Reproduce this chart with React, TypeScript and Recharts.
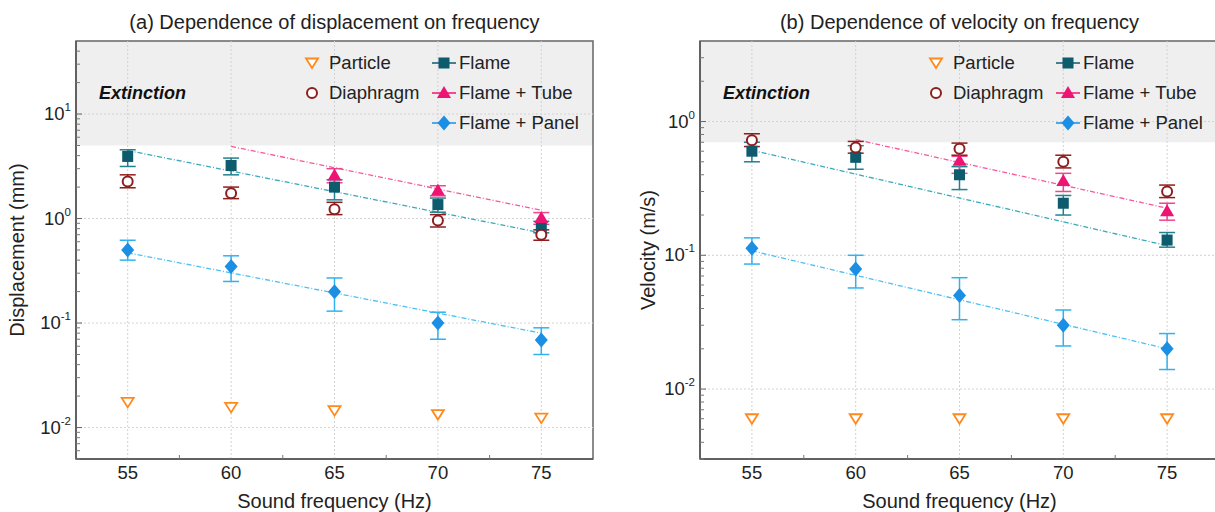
import React from 'react';
import { ComposedChart, Scatter, Line, XAxis, YAxis, ReferenceArea, ReferenceLine, ErrorBar } from 'recharts';

// ---------- data ----------
const FREQ = [55, 60, 65, 70, 75];
const TUBE_FREQ = [65, 70, 75];
const FIT_FULL_X = [55, 75];
const FIT_TUBE_X = [60, 75];

// (a) displacement, mm
const DISP_PARTICLE = [0.0174, 0.0156, 0.0145, 0.0133, 0.0123];
const DISP_DIAPHRAGM = [2.26, 1.75, 1.23, 0.96, 0.70];
const DISP_DIAPHRAGM_LOW = [1.97, 1.55, 1.09, 0.83, 0.62];
const DISP_DIAPHRAGM_HIGH = [2.62, 2.0, 1.43, 1.09, 0.78];
const DISP_FLAME = [3.93, 3.22, 2.0, 1.36, 0.82];
const DISP_FLAME_LOW = [3.15, 2.62, 1.51, 1.15, 0.73];
const DISP_FLAME_HIGH = [4.55, 3.79, 2.35, 1.57, 0.94];
const DISP_TUBE = [2.58, 1.86, 1.01];
const DISP_TUBE_LOW = [2.2, 1.65, 0.88];
const DISP_TUBE_HIGH = [3.0, 2.06, 1.14];
const DISP_PANEL = [0.50, 0.348, 0.199, 0.10, 0.069];
const DISP_PANEL_LOW = [0.40, 0.25, 0.13, 0.07, 0.05];
const DISP_PANEL_HIGH = [0.62, 0.44, 0.27, 0.127, 0.09];
const DISP_FIT_FLAME = [4.48, 0.73];
const DISP_FIT_TUBE = [4.9, 1.2];
const DISP_FIT_PANEL = [0.47, 0.08];

// (b) velocity, m/s
const VEL_PARTICLE = [0.006, 0.006, 0.006, 0.006, 0.006];
const VEL_DIAPHRAGM = [0.725, 0.64, 0.625, 0.50, 0.30];
const VEL_DIAPHRAGM_LOW = [0.65, 0.58, 0.56, 0.45, 0.27];
const VEL_DIAPHRAGM_HIGH = [0.81, 0.71, 0.69, 0.56, 0.335];
const VEL_FLAME = [0.60, 0.54, 0.40, 0.245, 0.13];
const VEL_FLAME_LOW = [0.50, 0.44, 0.31, 0.20, 0.115];
const VEL_FLAME_HIGH = [0.70, 0.66, 0.46, 0.28, 0.148];
const VEL_TUBE = [0.51, 0.36, 0.213];
const VEL_TUBE_LOW = [0.41, 0.30, 0.183];
const VEL_TUBE_HIGH = [0.55, 0.41, 0.245];
const VEL_PANEL = [0.113, 0.079, 0.050, 0.030, 0.020];
const VEL_PANEL_LOW = [0.086, 0.057, 0.033, 0.021, 0.014];
const VEL_PANEL_HIGH = [0.135, 0.10, 0.068, 0.039, 0.026];
const VEL_FIT_FLAME = [0.61, 0.118];
const VEL_FIT_TUBE = [0.733, 0.225];
const VEL_FIT_PANEL = [0.108, 0.020];

// ticks
const X_MAJOR = [55, 60, 65, 70, 75];
const X_MINOR = [57.5, 62.5, 67.5, 72.5];
const DISP_Y_MAJOR = [0.01, 0.1, 1, 10];
const DISP_Y_MINOR = [0.005, 0.006, 0.007, 0.008, 0.009, 0.02, 0.03, 0.04, 0.05, 0.06, 0.07, 0.08, 0.09,
  0.2, 0.3, 0.4, 0.5, 0.6, 0.7, 0.8, 0.9, 2, 3, 4, 5, 6, 7, 8, 9, 20, 30, 40];
const VEL_Y_MAJOR = [0.01, 0.1, 1];
const VEL_Y_MINOR = [0.003, 0.004, 0.005, 0.006, 0.007, 0.008, 0.009, 0.02, 0.03, 0.04, 0.05, 0.06, 0.07, 0.08, 0.09,
  0.2, 0.3, 0.4, 0.5, 0.6, 0.7, 0.8, 0.9, 2, 3];
const EXPONENT = { 0.01: '-2', 0.1: '-1', 1: '0', 10: '1' } as Record<string, string>;

const LEGEND_LABELS = ['Particle', 'Diaphragm', 'Flame', 'Flame + Tube', 'Flame + Panel'];

// ---------- styles ----------
const FONT = '"Liberation Sans", Arial, Helvetica, sans-serif';
const C = {
  particle: '#ff8a1c',
  diaphragm: '#8e1e1e',
  flame: '#0d5b6c',
  flameErr: '#23808f',
  flameFit: '#3aa9b9',
  tube: '#ee1474',
  tubeErr: '#f0458f',
  tubeFit: '#f7589c',
  panel: '#1b8fe3',
  panelErr: '#30b2ef',
  panelFit: '#4cc0f2',
};

type Kind = 'downTri' | 'circle' | 'square' | 'tri' | 'diamond';

function marker(kind: Kind, cx: number, cy: number, color: string) {
  switch (kind) {
    case 'downTri':
      return <path d={`M${cx - 6},${cy - 4.5} L${cx + 6},${cy - 4.5} L${cx},${cy + 5} Z`} fill="#fff" stroke={color} strokeWidth={1.8} strokeLinejoin="miter" />;
    case 'circle':
      return <circle cx={cx} cy={cy} r={5} fill="#fff" stroke={color} strokeWidth={2} />;
    case 'square':
      return <rect x={cx - 5.5} y={cy - 5.5} width={11} height={11} fill={color} />;
    case 'tri':
      return <path d={`M${cx},${cy - 7} L${cx + 7},${cy + 5} L${cx - 7},${cy + 5} Z`} fill={color} />;
    case 'diamond':
      return <path d={`M${cx},${cy - 7.5} L${cx + 6.5},${cy} L${cx},${cy + 7.5} L${cx - 6.5},${cy} Z`} fill={color} />;
  }
  return null;
}

function pts(xs: number[], ys: number[], lo?: number[], hi?: number[]) {
  return xs.map((x, i) => ({
    x,
    y: ys[i],
    err: lo && hi ? [ys[i] - lo[i], hi[i] - ys[i]] : undefined,
  }));
}

interface PanelCfg {
  left: number;
  width: number;
  plotLeft: number;
  marginRight: number;
  yDomain: [number, number];
  extinctionFrom: number;
  yMajor: number[];
  yMinor: number[];
  title: string;
  yLabel: string;
  yLabelX: number;
  particle: number[];
  diaphragm: number[]; diaphragmLo: number[]; diaphragmHi: number[];
  flame: number[]; flameLo: number[]; flameHi: number[];
  tube: number[]; tubeLo: number[]; tubeHi: number[];
  panel: number[]; panelLo: number[]; panelHi: number[];
  fitFlame: number[]; fitTube: number[]; fitPanel: number[];
}

const HEIGHT = 512;
const PLOT_TOP = 41;
const PLOT_BOTTOM = 459;
const Y_AXIS_W = 60;
const X_AXIS_H = 30;

const YTick = (props: any) => {
  const { x, y, payload, majors } = props;
  const v = payload.value;
  const isMajor = majors.some((m: number) => Math.abs(m - v) / m < 1e-6);
  if (isMajor) {
    return (
      <g>
        <line x1={x} x2={x + 6} y1={y} y2={y} stroke="#666" strokeWidth={1} />
        <text x={x - 5} y={y + 6} textAnchor="end" fontSize={18.5} fill="#222" fontFamily={FONT}>
          10<tspan dy={-9} fontSize={11.5}>{EXPONENT[String(v)]}</tspan>
        </text>
      </g>
    );
  }
  return <line x1={x} x2={x + 4} y1={y} y2={y} stroke="#777" strokeWidth={1} />;
};

const XTick = (props: any) => {
  const { x, y, payload } = props;
  const v = payload.value;
  if (X_MAJOR.includes(v)) {
    return (
      <text x={x} y={y + 20} textAnchor="middle" fontSize={18.5} fill="#222" fontFamily={FONT}>
        {v}
      </text>
    );
  }
  return <line x1={x} x2={x} y1={y} y2={y - 4} stroke="#777" strokeWidth={1} />;
};

function Panel({ cfg }: { cfg: PanelCfg }) {
  const plotRight = cfg.width - cfg.marginRight;
  const plotW = plotRight - cfg.plotLeft;
  const pl = cfg.plotLeft;
  const legendRows = [63, 93, 123];
  const legendItems: { col: number; row: number; kind: Kind; color: string; line?: string; label: string }[] = [
    { col: 0, row: 0, kind: 'downTri', color: C.particle, label: LEGEND_LABELS[0] },
    { col: 0, row: 1, kind: 'circle', color: C.diaphragm, label: LEGEND_LABELS[1] },
    { col: 1, row: 0, kind: 'square', color: C.flame, line: C.flame, label: LEGEND_LABELS[2] },
    { col: 1, row: 1, kind: 'tri', color: C.tube, line: C.tube, label: LEGEND_LABELS[3] },
    { col: 1, row: 2, kind: 'diamond', color: C.panel, line: C.panel, label: LEGEND_LABELS[4] },
  ];
  const colMarker = [pl + 236, pl + 368];
  const colText = [pl + 253, pl + 383];

  return (
    <div style={{ position: 'absolute', left: cfg.left, top: 0, width: cfg.width, height: HEIGHT }}>
      <ComposedChart
        width={cfg.width}
        height={HEIGHT}
        margin={{ top: PLOT_TOP, right: cfg.marginRight, bottom: HEIGHT - PLOT_BOTTOM - X_AXIS_H, left: pl - Y_AXIS_W }}
      >
        <XAxis
          dataKey="x"
          type="number"
          domain={[52.5, 77.5]}
          allowDataOverflow
          ticks={[...X_MAJOR, ...X_MINOR]}
          tick={<XTick />}
          tickLine={false}
          tickSize={0}
          tickMargin={0}
          height={X_AXIS_H}
          axisLine={{ stroke: '#555', strokeWidth: 1.5 }}
          interval={0}
        />
        <YAxis
          dataKey="y"
          type="number"
          scale="log"
          domain={cfg.yDomain}
          allowDataOverflow
          ticks={[...cfg.yMajor, ...cfg.yMinor]}
          tick={<YTick majors={cfg.yMajor} />}
          tickLine={false}
          tickSize={0}
          tickMargin={0}
          width={Y_AXIS_W}
          axisLine={{ stroke: '#555', strokeWidth: 1.5 }}
          interval={0}
        />
        <ReferenceArea y1={cfg.extinctionFrom} y2={cfg.yDomain[1]} fill="#efefef" fillOpacity={1} stroke="none" ifOverflow="hidden" />
        {X_MAJOR.map((v) => (
          <ReferenceLine key={'gx' + v} x={v} stroke="#d2d2d2" strokeDasharray="2 2" strokeWidth={1} />
        ))}
        {cfg.yMajor.map((v) => (
          <ReferenceLine key={'gy' + v} y={v} stroke="#d2d2d2" strokeDasharray="2 2" strokeWidth={1} />
        ))}
        <ReferenceArea x1={52.5} x2={77.5} y1={cfg.yDomain[0]} y2={cfg.yDomain[1]} fill="none" stroke="#666" strokeWidth={1.5} ifOverflow="visible" />

        <Line data={pts(FIT_FULL_X, cfg.fitFlame)} dataKey="y" stroke={C.flameFit} strokeWidth={1.3} strokeDasharray="5 2 1 2" dot={false} activeDot={false} isAnimationActive={false} />
        <Line data={pts(FIT_TUBE_X, cfg.fitTube)} dataKey="y" stroke={C.tubeFit} strokeWidth={1.3} strokeDasharray="5 2 1 2" dot={false} activeDot={false} isAnimationActive={false} />
        <Line data={pts(FIT_FULL_X, cfg.fitPanel)} dataKey="y" stroke={C.panelFit} strokeWidth={1.3} strokeDasharray="5 2 1 2" dot={false} activeDot={false} isAnimationActive={false} />

        <Scatter data={pts(FREQ, cfg.particle)} dataKey="y" isAnimationActive={false}
          shape={(p: any) => marker('downTri', p.cx, p.cy, C.particle)} />
        <Scatter data={pts(FREQ, cfg.flame, cfg.flameLo, cfg.flameHi)} dataKey="y" isAnimationActive={false}
          shape={(p: any) => marker('square', p.cx, p.cy, C.flame)}>
          <ErrorBar dataKey="err" direction="y" width={8} stroke={C.flameErr} strokeWidth={1.5} />
        </Scatter>
        <Scatter data={pts(TUBE_FREQ, cfg.tube, cfg.tubeLo, cfg.tubeHi)} dataKey="y" isAnimationActive={false}
          shape={(p: any) => marker('tri', p.cx, p.cy, C.tube)}>
          <ErrorBar dataKey="err" direction="y" width={8} stroke={C.tubeErr} strokeWidth={1.5} />
        </Scatter>
        <Scatter data={pts(FREQ, cfg.diaphragm, cfg.diaphragmLo, cfg.diaphragmHi)} dataKey="y" isAnimationActive={false}
          shape={(p: any) => marker('circle', p.cx, p.cy, C.diaphragm)}>
          <ErrorBar dataKey="err" direction="y" width={8} stroke={C.diaphragm} strokeWidth={1.5} />
        </Scatter>
        <Scatter data={pts(FREQ, cfg.panel, cfg.panelLo, cfg.panelHi)} dataKey="y" isAnimationActive={false}
          shape={(p: any) => marker('diamond', p.cx, p.cy, C.panel)}>
          <ErrorBar dataKey="err" direction="y" width={8} stroke={C.panelErr} strokeWidth={1.5} />
        </Scatter>
      </ComposedChart>

      <div style={{ position: 'absolute', left: pl - 40, width: plotW + 80, top: 10, height: 24, lineHeight: '24px', textAlign: 'center', fontSize: 20, color: '#222', fontFamily: FONT, whiteSpace: 'nowrap' }}>
        {cfg.title}
      </div>
      <div style={{ position: 'absolute', left: pl, width: plotW, top: 489, height: 24, lineHeight: '24px', textAlign: 'center', fontSize: 20, color: '#222', fontFamily: FONT, whiteSpace: 'nowrap' }}>
        Sound frequency (Hz)
      </div>
      <div style={{ position: 'absolute', left: cfg.yLabelX - 150, width: 300, top: (PLOT_TOP + PLOT_BOTTOM) / 2 - 12, height: 24, lineHeight: '24px', textAlign: 'center', fontSize: 20, color: '#222', fontFamily: FONT, transform: 'rotate(-90deg)', whiteSpace: 'nowrap' }}>
        {cfg.yLabel}
      </div>
      <div style={{ position: 'absolute', left: pl + 23, top: 81, height: 24, lineHeight: '24px', fontSize: 18, fontWeight: 'bold', fontStyle: 'italic', color: '#111', fontFamily: FONT, whiteSpace: 'nowrap' }}>
        Extinction
      </div>
      {legendItems.map((it) => {
        const mx = colMarker[it.col];
        const my = legendRows[it.row];
        return (
          <React.Fragment key={it.label}>
            <svg style={{ position: 'absolute', left: mx - 14, top: my - 10, overflow: 'visible' }} width={28} height={20}>
              {it.line ? <line x1={2} x2={26} y1={10} y2={10} stroke={it.line} strokeWidth={1.5} /> : null}
              {marker(it.kind, 14, 10, it.color)}
            </svg>
            <div style={{ position: 'absolute', left: colText[it.col], top: my - 12, height: 24, lineHeight: '24px', fontSize: 18.5, color: '#222', fontFamily: FONT, whiteSpace: 'nowrap' }}>
              {it.label}
            </div>
          </React.Fragment>
        );
      })}
    </div>
  );
}

const LEFT_CFG: PanelCfg = {
  left: 0, width: 610, plotLeft: 76, marginRight: 17,
  yDomain: [0.005, 50], extinctionFrom: 5,
  yMajor: DISP_Y_MAJOR, yMinor: DISP_Y_MINOR,
  title: '(a) Dependence of displacement on frequency',
  yLabel: 'Displacement (mm)', yLabelX: 17,
  particle: DISP_PARTICLE,
  diaphragm: DISP_DIAPHRAGM, diaphragmLo: DISP_DIAPHRAGM_LOW, diaphragmHi: DISP_DIAPHRAGM_HIGH,
  flame: DISP_FLAME, flameLo: DISP_FLAME_LOW, flameHi: DISP_FLAME_HIGH,
  tube: DISP_TUBE, tubeLo: DISP_TUBE_LOW, tubeHi: DISP_TUBE_HIGH,
  panel: DISP_PANEL, panelLo: DISP_PANEL_LOW, panelHi: DISP_PANEL_HIGH,
  fitFlame: DISP_FIT_FLAME, fitTube: DISP_FIT_TUBE, fitPanel: DISP_FIT_PANEL,
};

const RIGHT_CFG: PanelCfg = {
  left: 605, width: 620, plotLeft: 95, marginRight: 6,
  yDomain: [0.003, 4], extinctionFrom: 0.7,
  yMajor: VEL_Y_MAJOR, yMinor: VEL_Y_MINOR,
  title: '(b) Dependence of velocity on frequency',
  yLabel: 'Velocity (m/s)', yLabelX: 43,
  particle: VEL_PARTICLE,
  diaphragm: VEL_DIAPHRAGM, diaphragmLo: VEL_DIAPHRAGM_LOW, diaphragmHi: VEL_DIAPHRAGM_HIGH,
  flame: VEL_FLAME, flameLo: VEL_FLAME_LOW, flameHi: VEL_FLAME_HIGH,
  tube: VEL_TUBE, tubeLo: VEL_TUBE_LOW, tubeHi: VEL_TUBE_HIGH,
  panel: VEL_PANEL, panelLo: VEL_PANEL_LOW, panelHi: VEL_PANEL_HIGH,
  fitFlame: VEL_FIT_FLAME, fitTube: VEL_FIT_TUBE, fitPanel: VEL_FIT_PANEL,
};

export default function App() {
  return (
    <div style={{ position: 'absolute', left: 0, top: 0, width: 1215, height: 512, overflow: 'hidden', background: '#fff', fontFamily: FONT }}>
      <Panel cfg={LEFT_CFG} />
      <Panel cfg={RIGHT_CFG} />
    </div>
  );
}
